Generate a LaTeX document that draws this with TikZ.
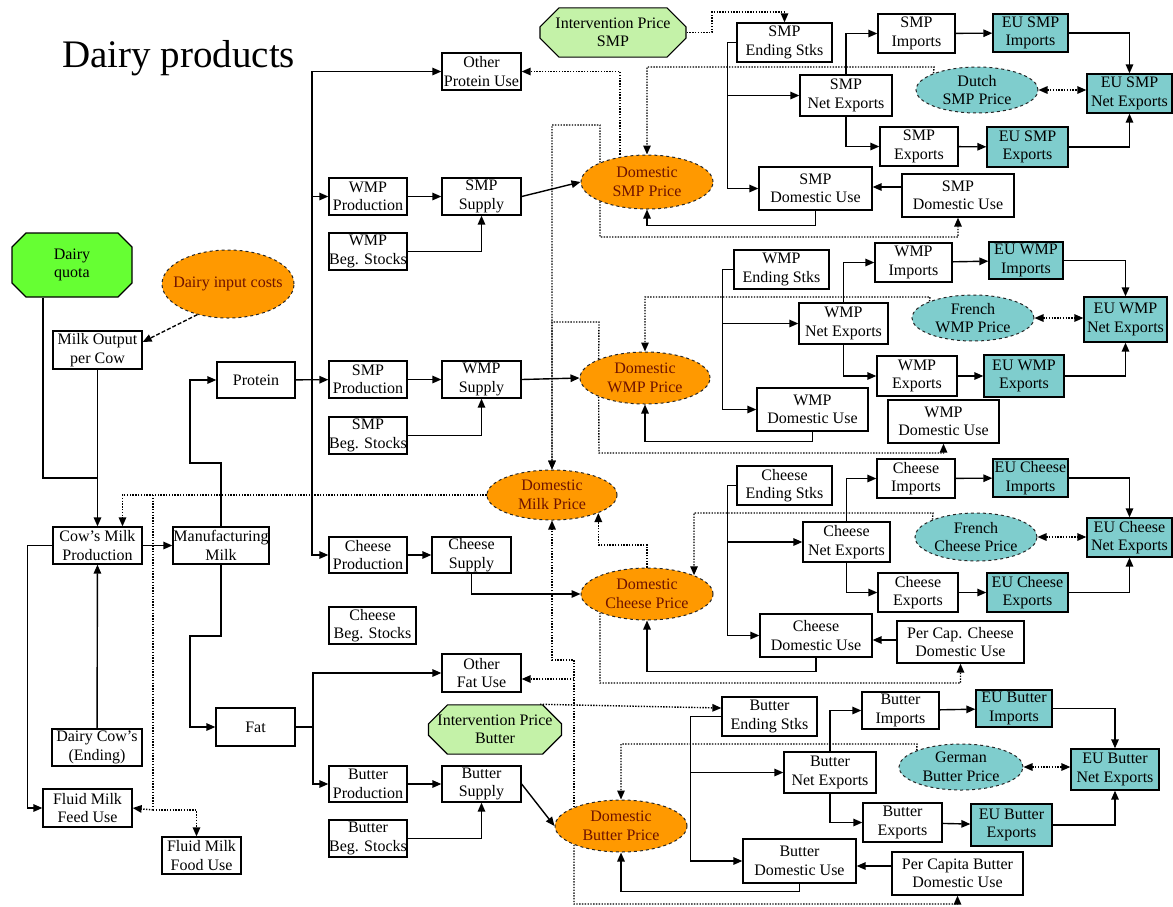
\documentclass[tikz,border=0pt]{standalone}
\usepackage{fontspec}
\setmainfont{Liberation Serif}
\usetikzlibrary{arrows.meta,shapes.misc,shapes.geometric,backgrounds}
\definecolor{orng}{HTML}{FF9900}
\definecolor{ortext}{HTML}{6E1200}
\definecolor{tealf}{HTML}{7FCDCD}
\definecolor{qgreen}{HTML}{66FF33}
\definecolor{igreen}{HTML}{C4F2A8}
\newcommand\Bx[7]{\node[#1, minimum width=#5pt-#3pt, minimum height=#6pt-#4pt] (#2) at ({(#3+#5)/2},{(#4+#6)/2}) {#7};}
\newcommand\El[7]{\node[#1, minimum width=#5pt, minimum height=#6pt] (#2) at (#3,#4) {#7};}
\tikzset{
 every node/.style={font=\fontsize{16}{18.5}\selectfont, align=center},
 box/.style={draw=black, fill=white, line width=1.3pt, rectangle, inner xsep=-8pt, inner ysep=-3pt},
 eubox/.style={box, fill=tealf},
 price/.style={ellipse, draw=black!85, dashed, fill=orng, text=ortext, inner sep=-14pt, line width=1pt},
 forprice/.style={price, fill=tealf, text=black},
 quotabox/.style={chamfered rectangle, chamfered rectangle xsep=7pt, chamfered rectangle ysep=7pt, inner sep=0pt, fill=qgreen, draw=black, line width=1.2pt},
 intbox/.style={chamfered rectangle, chamfered rectangle xsep=9pt, chamfered rectangle ysep=10pt, inner sep=0pt, fill=igreen, draw=black, line width=1.2pt},
 ln/.style={line width=1.4pt},
 arr/.style={ln, -{Triangle[length=9pt,width=7.5pt]}},
 dasharr/.style={arr, dash pattern=on 4pt off 2pt},
 dotln/.style={line width=1.4pt, dash pattern=on 1.4pt off 1.4pt},
 dotarr/.style={dotln, -{Triangle[length=9pt,width=7.5pt]}},
 dotarrb/.style={dotln, {Triangle[length=9pt,width=7.5pt]}-{Triangle[length=9pt,width=7.5pt]}},
}
\begin{document}
\begin{tikzpicture}[x=1pt,y=-1pt]
\useasboundingbox (0,0) rectangle (1173,906);
\node[font=\fontsize{39}{44}\selectfont, anchor=base west, inner sep=0pt] (title) at (62,67) {Dairy products};
% left part
\node[quotabox, minimum width=120pt, minimum height=64pt] (quota) at (72,265) {Dairy\\quota};
\El{price}{inputcosts}{228}{284}{132}{68}{Dairy input costs}
\Bx{box}{milkout}{53}{331}{142}{369}{Milk Output\\per Cow}
\Bx{box}{cowmilk}{53}{527}{142}{564}{Cow’s Milk\\Production}
\Bx{box}{manuf}{173}{527}{269}{564}{Manufacturing\\Milk}
\Bx{box}{protein}{217}{362}{295}{398}{Protein}
\Bx{box}{fat}{216}{708}{295}{746}{Fat}
\Bx{box}{dairycows}{52}{729}{142}{766}{Dairy Cow’s\\(Ending)}
\Bx{box}{feeduse}{43}{789}{132}{827}{Fluid Milk\\Feed Use}
\Bx{box}{fooduse}{162}{837}{241}{874}{Fluid Milk\\Food Use}
\El{price}{milk}{552}{495}{130}{50}{Domestic\\Milk Price}
% SMP
\Bx{box}{otherprot}{442}{53}{521}{90}{Other\\Protein Use}
\Bx{box}{prodA}{329}{178}{407}{215}{WMP\\Production}
\Bx{box}{supA}{442}{178}{521}{215}{SMP\\Supply}
\Bx{box}{begA}{329}{233}{407}{270}{WMP\\Beg. Stocks}
\El{price}{priceA}{647}{182}{132}{54}{Domestic\\SMP Price}
\node[intbox, minimum width=146pt, minimum height=45pt] (intA) at (613,32.5) {Intervention Price\\SMP};
\Bx{box}{endA}{737}{23}{832}{62}{SMP\\Ending Stks}
\Bx{box}{netA}{800}{75}{892}{116}{SMP\\Net Exports}
\Bx{box}{impA}{878}{14}{955}{53}{SMP\\Imports}
\Bx{eubox}{euimpA}{993}{14}{1068}{52}{EU SMP\\Imports}
\Bx{eubox}{eunetA}{1087}{74}{1172}{113}{EU SMP\\Net Exports}
\El{forprice}{forA}{977}{90}{122}{46}{Dutch\\SMP Price}
\Bx{box}{expA}{880}{127}{958}{166}{SMP\\Exports}
\Bx{eubox}{euexpA}{987}{127}{1068}{167}{EU SMP\\Exports}
\Bx{box}{domA}{759}{167}{872}{210}{SMP\\Domestic Use}
\Bx{box}{pcA}{902}{174}{1014}{217}{SMP\\Domestic Use}
% WMP
\Bx{box}{prodB}{329}{361}{407}{398}{SMP\\Production}
\Bx{box}{supB}{442}{361}{521}{398}{WMP\\Supply}
\Bx{box}{begB}{329}{417}{407}{454}{SMP\\Beg. Stocks}
\El{price}{priceB}{645}{378}{130}{52}{Domestic\\WMP Price}
\Bx{box}{endB}{734}{250}{829}{289}{WMP\\Ending Stks}
\Bx{box}{netB}{799}{303}{888}{344}{WMP\\Net Exports}
\Bx{box}{impB}{875}{243}{952}{282}{WMP\\Imports}
\Bx{eubox}{euimpB}{989}{242}{1063}{279}{EU WMP\\Imports}
\Bx{eubox}{eunetB}{1084}{297}{1167}{342}{EU WMP\\Net Exports}
\El{forprice}{forB}{973}{318}{122}{46}{French\\WMP Price}
\Bx{box}{expB}{877}{356}{957}{396}{WMP\\Exports}
\Bx{eubox}{euexpB}{984}{355}{1064}{397}{EU WMP\\Exports}
\Bx{box}{domB}{757}{388}{868}{431}{WMP\\Domestic Use}
\Bx{box}{pcB}{888}{400}{999}{443}{WMP\\Domestic Use}
% Cheese
\Bx{box}{prodC}{329}{537}{407}{573}{Cheese\\Production}
\Bx{box}{supC}{432}{537}{511}{573}{Cheese\\Supply}
\Bx{box}{begC}{329}{607}{416}{644}{Cheese\\Beg. Stocks}
\El{price}{priceC}{647}{594}{132}{52}{Domestic\\Cheese Price}
\Bx{box}{endC}{737}{466}{832}{505}{Cheese\\Ending Stks}
\Bx{box}{netC}{803}{522}{890}{562}{Cheese\\Net Exports}
\Bx{box}{impC}{877}{459}{955}{498}{Cheese\\Imports}
\Bx{eubox}{euimpC}{993}{459}{1068}{497}{EU Cheese\\Imports}
\Bx{eubox}{eunetC}{1087}{518}{1172}{557}{EU Cheese\\Net Exports}
\El{forprice}{forC}{976}{537}{122}{48}{French\\Cheese Price}
\Bx{box}{expC}{878}{573}{958}{612}{Cheese\\Exports}
\Bx{eubox}{euexpC}{987}{573}{1068}{612}{EU Cheese\\Exports}
\Bx{box}{domC}{760}{614}{872}{657}{Cheese\\Domestic Use}
\Bx{box}{pcC}{897}{621}{1024}{663}{Per Cap. Cheese\\Domestic Use}
% Butter
\Bx{box}{otherfat}{442}{654}{521}{692}{Other\\Fat Use}
\node[intbox, minimum width=116pt, minimum height=45pt] (intD) at (495,729.5) {Intervention Price\\Butter};
\Bx{box}{prodD}{329}{766}{407}{802}{Butter\\Production}
\Bx{box}{supD}{442}{766}{521}{802}{Butter\\Supply}
\Bx{box}{begD}{329}{820}{407}{857}{Butter\\Beg. Stocks}
\El{price}{priceD}{621}{826}{132}{52}{Domestic\\Butter Price}
\Bx{box}{endD}{722}{697}{817}{736}{Butter\\Ending Stks}
\Bx{box}{netD}{784}{752}{876}{793}{Butter\\Net Exports}
\Bx{box}{impD}{862}{692}{939}{729}{Butter\\Imports}
\Bx{eubox}{euimpD}{976}{690}{1052}{727}{EU Butter\\Imports}
\Bx{eubox}{eunetD}{1071}{749}{1159}{790}{EU Butter\\Net Exports}
\El{forprice}{forD}{961}{767}{124}{46}{German\\Butter Price}
\Bx{box}{expD}{863}{803}{942}{842}{Butter\\Exports}
\Bx{eubox}{euexpD}{971}{804}{1052}{846}{EU Butter\\Exports}
\Bx{box}{domD}{743}{839}{856}{883}{Butter\\Domestic Use}
\Bx{box}{pcD}{892}{852}{1023}{895}{Per Capita Butter\\Domestic Use}

\begin{pgfonlayer}{background}
\fill[white] (0,0) rectangle (1173,906);
% milk chain
\draw[ln] (quota.south) ++(-29,0) -- (43,478) -- (97.5,478);
\draw[arr] (milkout) -- (cowmilk);
\draw[arr] (dairycows) -- (cowmilk);
\draw[dasharr] (inputcosts.225) -- (milkout.east |- 0,342);
\draw[arr] (cowmilk) -- (manuf);
\draw[arr] (cowmilk.west) -- ++(-25,0) |- (feeduse.west);
\draw[arr] (manuf.north) |- (190,463) |- (protein.west);
\draw[arr] (manuf.south) |- (190,636) |- (fat.west);
\coordinate (ptrunk) at (312,380);
\draw[arr] (protein) -- (prodB);
\draw[arr] (ptrunk) |- (otherprot.west);
\draw[arr] (ptrunk) |- (prodA.west);
\draw[arr] (ptrunk) |- (prodC.west);
\coordinate (ftrunk) at (313,727);
\draw[ln] (fat.east) -- (ftrunk);
\draw[arr] (ftrunk) |- (otherfat.west);
\draw[arr] (ftrunk) |- (prodD.west);
% SMP
\draw[arr] (prodA) -- (supA);
\draw[arr] (begA.east) -| (supA.south);
\draw[arr] (supA.east) -- (priceA.west);
\draw[arr] (endA.west) -- ++(-9,0) |- (domA.west);
\draw[arr] (netA.west -| 728,0) -- (netA.west);
\draw[arr] (netA.north) |- (impA.west);
\draw[arr] (netA.south) |- (expA.west);
\draw[arr] (impA) -- (euimpA);
\draw[arr] (expA) -- (euexpA);
\draw[arr] (euimpA.east) -| (eunetA.north);
\draw[arr] (euexpA.east) -| (eunetA.south);
\draw[arr] (pcA.west |- 0,187) -- (domA.east |- 0,187);
\draw[arr] (domA.south) -- ++(0,15) -| (priceA.south);
% WMP
\draw[arr] (prodB) -- (supB);
\draw[arr] (begB.east) -| (supB.south);
\draw[arr] (supB.east) -- (priceB.west);
\draw[arr] (endB.west) -- ++(-11,0) |- (domB.west);
\draw[arr] (netB.west -| 723,0) -- (netB.west);
\draw[arr] (netB.north) |- (impB.west);
\draw[arr] (netB.south) |- (expB.west);
\draw[arr] (impB) -- (euimpB);
\draw[arr] (expB) -- (euexpB);
\draw[arr] (euimpB.east) -| (eunetB.north);
\draw[arr] (euexpB.east) -| (eunetB.south);
\draw[arr] (domB.south) -- ++(0,10) -| (priceB.south);
% Cheese
\draw[arr] (prodC) -- (supC);
\draw[arr] (supC.south) |- (priceC.west);
\draw[arr] (endC.west) -- ++(-9,0) |- (domC.west);
\draw[arr] (netC.west -| 728,0) -- (netC.west);
\draw[arr] (netC.north) |- (impC.west);
\draw[arr] (netC.south) |- (expC.west);
\draw[arr] (impC) -- (euimpC);
\draw[arr] (expC) -- (euexpC);
\draw[arr] (euimpC.east) -| (eunetC.north);
\draw[arr] (euexpC.east) -| (eunetC.south);
\draw[arr] (pcC.west |- 0,640) -- (domC.east |- 0,640);
\draw[arr] (domC.south) -- ++(0,14) -| (priceC.south);
% Butter
\draw[arr] (prodD) -- (supD);
\draw[arr] (begD.east) -| (supD.south);
\draw[arr] (supD.east) -- (priceD.west);
\draw[arr] (endD.west) -- ++(-31,0) |- (domD.west);
\draw[arr] (netD.west -| 691,0) -- (netD.west);
\draw[arr] (netD.north) |- (impD.west);
\draw[arr] (netD.south) |- (expD.west);
\draw[arr] (impD) -- (euimpD);
\draw[arr] (expD) -- (euexpD);
\draw[arr] (euimpD.east) -| (eunetD.north);
\draw[arr] (euexpD.east) -| (eunetD.south);
\draw[arr] (pcD.west |- 0,866) -- (domD.east |- 0,866);
\draw[arr] (domD.south) -- ++(0,8) -| (priceD.south);
% dotted links
\draw[dotarr] (milk.west) -| ([xshift=25pt]cowmilk.north);
\coordinate (fm) at (153,810);
\draw[dotln] (153,495) -- (fm);
\draw[dotarr] (fm) -- (feeduse.east);
\draw[dotarr] (fm) -| ([xshift=-5pt]fooduse.north);
\draw[dotarr] (priceA.north west) -- (600,125) -| (milk.north);
\draw[dotarr] (priceA.south west) -- (600,237) -| (pcA.south);
\draw[dotarr] (priceA.north -| 620,0) |- (otherprot.east);
\draw[dotarr] (forA.north west) -- (934,67) -| (priceA.north);
\draw[dotarrb] (forA.east) -- (eunetA.west |- forA.east);
\draw[dotarr] (intA.east) -- (712,32.5) -- (712,12) -| (endA.north);
\draw[dotarr] (priceB.north west) -- (599,322) -| (milk.north);
\draw[dotarr] (priceB.south west) -- (599,453) -| (pcB.south);
\draw[dotarr] (forB.north west) -- (930,297) -| (priceB.north);
\draw[dotarrb] (forB.east) -- (eunetB.west |- forB.east);
\draw[dotarr] (priceC.north) -- (647,545) -| (milk.south east);
\draw[dotarr] (priceC.south west) -- (600,683) -| (pcC.south);
\draw[dotarr] (forC.north west) -- (933,513) -| (priceC.north east);
\draw[dotarrb] (forC.east) -- (eunetC.west |- forC.east);
\draw[dotarr] (priceD.north west) |- (552,660) -- (milk.south);
\draw[dotarr] (priceD.north west |- 0,679) -- (otherfat.east |- 0,679);
\draw[dotarr] (priceD.south west) -- (574,904) -| (pcD.south);
\draw[dotarr] (forD.north west) -- (917,744) -| (priceD.north);
\draw[dotarrb] (forD.east) -- (eunetD.west |- forD.east);
\draw[dotarr] (intD.north -| 540,0) -- (endD.west |- 0,708);
\end{pgfonlayer}
\end{tikzpicture}
\end{document}
